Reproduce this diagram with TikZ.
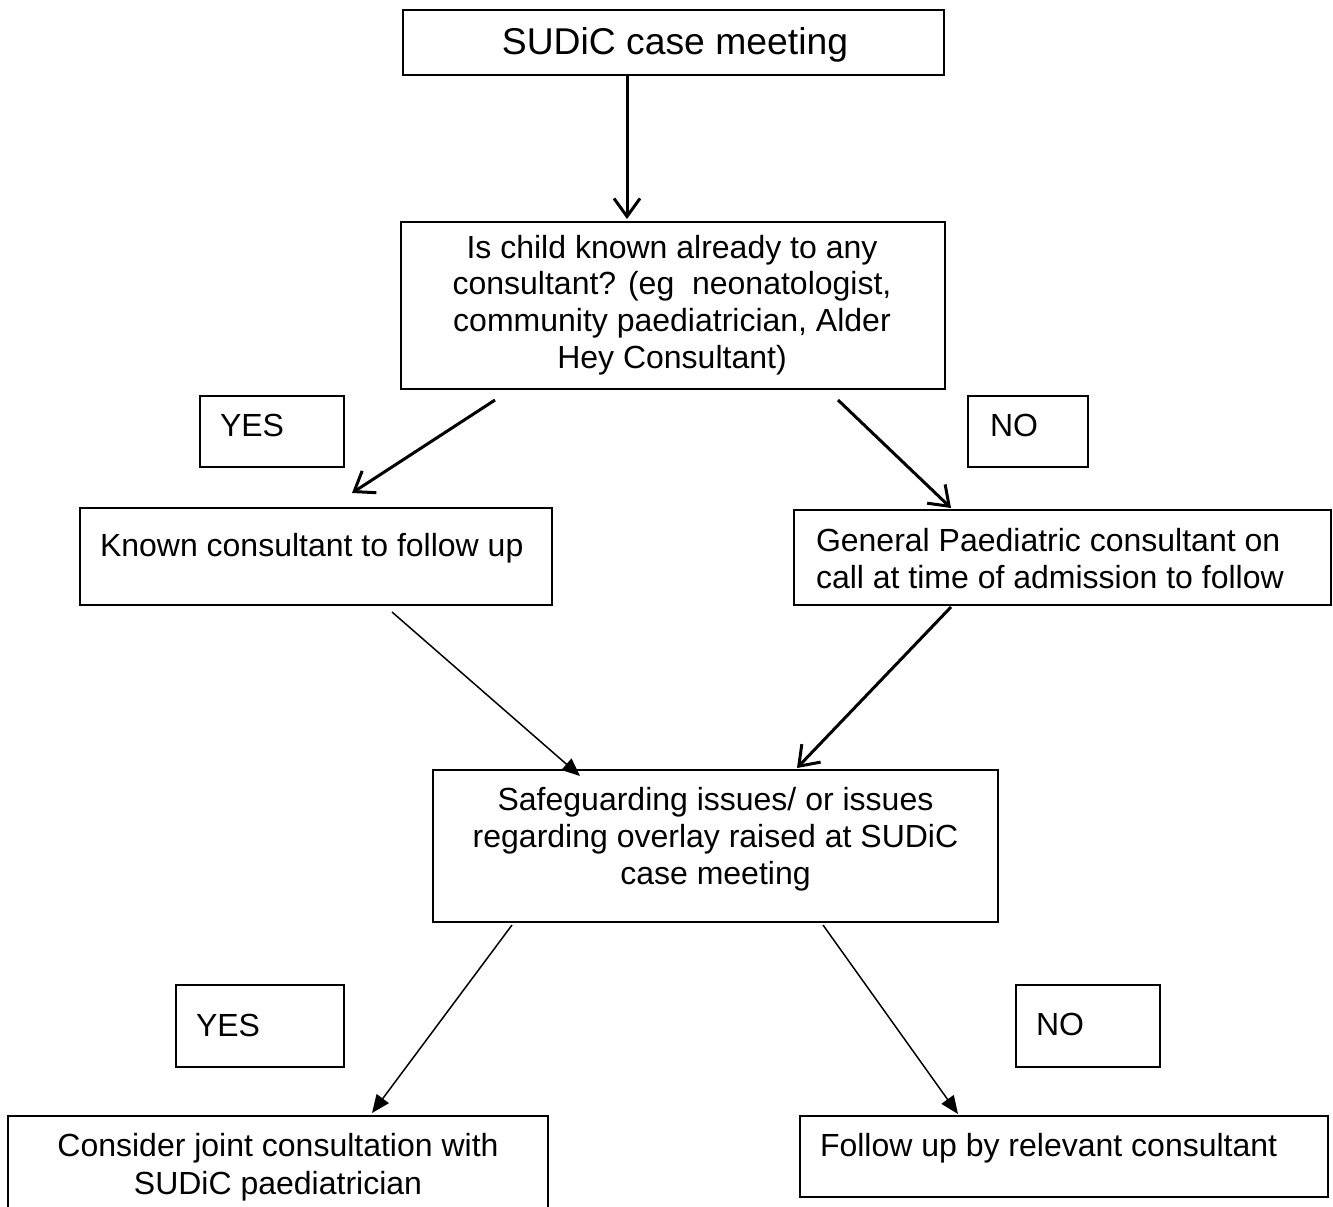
\documentclass[tikz,border=0pt]{standalone}
\usepackage{fontspec}
\setmainfont{Liberation Sans}
\usetikzlibrary{arrows.meta,calc}
\begin{document}
\begin{tikzpicture}[x=1pt,y=-1pt,
  box/.style={draw, line width=1.5pt, inner sep=0pt, outer sep=0pt},
  txt/.style={inner sep=0pt, outer sep=0pt, font=\fontsize{32}{36.8}\selectfont, align=center, anchor=base},
  ltxt/.style={inner sep=0pt, outer sep=0pt, font=\fontsize{32}{37}\selectfont, align=left, anchor=base west},
  thickarr/.style={line width=3pt, -{Straight Barb[length=18pt,width=26pt]}},
  thinarr/.style={line width=1.5pt, -{Triangle[length=18pt,width=15pt]}}]
\useasboundingbox (0,0) rectangle (1333,1207);
\fill[white] (0,0) rectangle (1333,1207);

% boxes (multi-line texts are anchored at the baseline of their last line)
\node[box, minimum width=541pt, minimum height=65pt] (b1) at (673.5,42.5) {};
\node[inner sep=0pt, font=\fontsize{37.3}{43}\selectfont, anchor=base] (b1t) at (675,55) {SUDiC case meeting};

\node[box, minimum width=544pt, minimum height=167pt] (b2) at (673,305.5) {};
\node[txt] (b2t) at (672,368.5) {Is child known already to any\\consultant? (eg~ neonatologist,\\community paediatrician, Alder\\Hey Consultant)};

\node[box, minimum width=144pt, minimum height=71pt] (yes1) at (272,431.5) {};
\node[ltxt] (yes1t) at (220,436) {YES};
\node[box, minimum width=120pt, minimum height=71pt] (no1) at (1028,431.5) {};
\node[ltxt] (no1t) at (990,436) {NO};

\node[box, minimum width=472pt, minimum height=97pt] (known) at (316,556.5) {};
\node[ltxt] (knownt) at (100,556) {Known consultant to follow up};

\node[box, minimum width=537pt, minimum height=95pt] (gen) at (1062.5,557.5) {};
\node[ltxt] (gent) at (816,588) {General Paediatric consultant on\\call at time of admission to follow};

\node[box, minimum width=565pt, minimum height=152pt] (safe) at (715.5,846) {};
\node[txt] (safet) at (715.5,884.5) {Safeguarding issues/ or issues\\regarding overlay raised at SUDiC\\case meeting};

\node[box, minimum width=168pt, minimum height=82pt] (yes2) at (260,1026) {};
\node[ltxt] (yes2t) at (196,1036) {YES};
\node[box, minimum width=144pt, minimum height=82pt] (no2) at (1088,1026) {};
\node[ltxt] (no2t) at (1036,1035) {NO};

\node[box, minimum width=540pt, minimum height=99pt] (cons) at (278,1165.5) {};
\node[txt, font=\fontsize{32}{38}\selectfont] (const) at (278,1194) {Consider joint consultation with\\SUDiC paediatrician};

\node[box, minimum width=528pt, minimum height=81pt] (foll) at (1064,1156.5) {};
\node[ltxt] (follt) at (820,1156) {Follow up by relevant consultant};

% connectors
\draw[thickarr] (b1.south -| 627,0) -- ($(b2.north -| 627,0)+(0,-3)$);
\draw[thickarr] ($(b2.south west)+(94,11)$) -- ($(known.north west)+(272,-15)$);
\draw[thickarr] ($(b2.south west)+(437,11)$) -- ($(gen.north west)+(157,-2)$);
\draw[thinarr] ($(known.south west)+(312,7)$) -- ($(safe.north west)+(147,6)$);
\draw[thickarr] ($(gen.south west)+(157,2)$) -- ($(safe.north west)+(364,-2)$);
\draw[thinarr] ($(safe.south west)+(79,3)$) -- ($(cons.north west)+(364,-3)$);
\draw[thinarr] ($(safe.south west)+(390,3)$) -- ($(foll.north west)+(158,-2)$);
\end{tikzpicture}
\end{document}
